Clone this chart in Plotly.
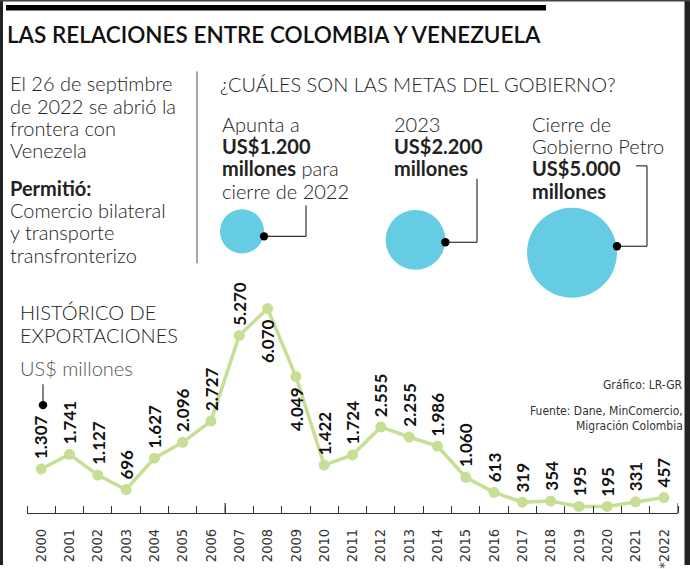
import plotly.graph_objects as go

W, H = 690, 569

# historico de exportaciones (US$ millones)
years = list(range(2000, 2023))
exports = [1307, 1741, 1127, 696, 1627, 2096, 2727, 5270, 6070, 4049, 1422, 1724,
           2555, 2255, 1986, 1060, 613, 319, 354, 195, 195, 331, 457]
year_labels = [str(y) for y in years[:-1]] + ["*2022"]
labels_below = [2008, 2009]

# metas del gobierno (US$ millones)
goal_values = [1200, 2200, 5000]

GREEN = "#C6DF94"
CYAN = "#66CCE4"
DARK = "#222222"
LIGHT = "Lato"
NARROW = "DejaVu Sans Condensed, Liberation Sans Narrow, Lato, sans-serif"


def px(x):
    return x / W


def py(y):
    return 1 - y / H


annotations = []
shapes = []


def text(x, y, s, size=20, weight=300, color=DARK, family=LIGHT, anchor="left"):
    annotations.append(dict(
        x=px(x), y=py(y), xref="paper", yref="paper", text=s, showarrow=False,
        xanchor=anchor, yanchor="middle", borderpad=0,
        font=dict(family=family, size=size, color=color, weight=weight)))


def line(x0, y0, x1, y1, color="#333333", width=1.2):
    shapes.append(dict(type="line", xref="paper", yref="paper",
                       x0=px(x0), y0=py(y0), x1=px(x1), y1=py(y1),
                       line=dict(color=color, width=width)))


def dot(x, y, r=4.2):
    shapes.append(dict(type="circle", xref="paper", yref="paper",
                       x0=px(x - r), x1=px(x + r), y0=py(y - r), y1=py(y + r),
                       fillcolor="black", line=dict(width=0)))


fig = go.Figure()

# line chart
fig.add_trace(go.Scatter(
    x=years, y=exports, mode="lines+markers",
    line=dict(color=GREEN, width=3.5),
    marker=dict(color=GREEN, size=11),
    cliponaxis=False, hoverinfo="skip"))

for yr, v in zip(years, exports):
    lab = f"{v:,}".replace(",", ".")
    below = yr in labels_below
    annotations.append(dict(
        x=yr, y=v, xref="x", yref="y", text="<b>" + lab + "</b>", showarrow=False,
        textangle=-90, xanchor="center",
        yanchor="top" if below else "bottom",
        yshift=-9 if below else 8,
        font=dict(family=LIGHT, size=17, color="#111111", weight=700)))

# circles for the goals, sized by area
cx = [242, 415.5, 572]
cy = [233, 241.5, 254.5]
dmax = 90
sref = 2 * max(goal_values) / dmax ** 2
fig.add_trace(go.Scatter(
    x=cx, y=cy, xaxis="x2", yaxis="y2", mode="markers",
    marker=dict(size=goal_values, sizemode="area", sizeref=sref, color=CYAN,
                opacity=1, line=dict(width=0)),
    hoverinfo="skip", cliponaxis=False))

radii = [(v / (2 * sref)) ** 0.5 for v in goal_values]

# connectors from each circle to its text
dot_y = [238, 244, 248]
elbow_x = [306, 477, 647]
top_y = [207, 180, 167]
for c, r, dy, ex, ty in zip(cx, radii, dot_y, elbow_x, top_y):
    line(c + r, dy, ex, dy)
    line(ex, dy, ex, ty)
    dot(c + r, dy)
line(647, 167, 636, 167)

# frame and header bar
shapes.append(dict(type="rect", xref="paper", yref="paper", x0=0, x1=px(3), y0=0, y1=1,
                   fillcolor=DARK, line=dict(width=0)))
shapes.append(dict(type="rect", xref="paper", yref="paper", x0=px(684.5), x1=1, y0=0, y1=1,
                   fillcolor=DARK, line=dict(width=0)))
shapes.append(dict(type="rect", xref="paper", yref="paper", x0=0, x1=1, y0=py(1.5), y1=1,
                   fillcolor="#444444", line=dict(width=0)))
shapes.append(dict(type="rect", xref="paper", yref="paper", x0=px(6), x1=px(546),
                   y0=py(10.5), y1=py(5), fillcolor="black", line=dict(width=0)))

# divider
line(197, 72, 197, 265, color="#8a8a8a", width=1.5)

# titles and texts
text(6, 34.5, "LAS RELACIONES ENTRE COLOMBIA Y VENEZUELA", size=22.5, weight=600, color="#111111")

left_lines = ["El 26 de septimbre", "de 2022 se abrió la", "frontera con", "Venezela"]
for i, s in enumerate(left_lines):
    text(9, 84 + 22.5 * i, s)
text(9, 189.5, "<b>Permitió:</b>")
for i, s in enumerate(["Comercio bilateral", "y transporte", "transfronterizo"]):
    text(9, 211.5 + 22.5 * i, s)

text(219, 84.5, "¿CUÁLES SON LAS METAS DEL GOBIERNO?")

for i, s in enumerate(["Apunta a", "<b>US$1.200</b>", "<b>millones</b> para", "cierre de 2022"]):
    text(221, 124.5 + 22.5 * i, s)
for i, s in enumerate(["2023", "<b>US$2.200</b>", "<b>millones</b>"]):
    text(393, 124.5 + 22.5 * i, s)
for i, s in enumerate(["Cierre de", "Gobierno Petro", "<b>US$5.000</b>", "<b>millones</b>"]):
    text(531, 124.5 + 22.5 * i, s)

text(19, 314.5, "HISTÓRICO DE")
text(19, 337, "EXPORTACIONES")
text(19, 370.5, "US$ millones", color="#555555")
line(43, 387, 43, 404)
dot(43, 408)

text(684, 388, "Gráfico: LR-GR", size=12, weight=400, family=NARROW, color="#333333", anchor="right")
text(684, 414, "Fuente: Dane, MinComercio,", size=12, weight=400, family=NARROW, color="#333333", anchor="right")
text(684, 429, "Migración Colombia", size=12, weight=400, family=NARROW, color="#333333", anchor="right")

y0 = 516.6
y_per_px = 0.03392

# taller ticks on the axis (2006/2007 boundary and the end)
for xt in [2006.5, 2022.5]:
    shapes.append(dict(type="line", xref="x", yref="paper", x0=xt, x1=xt,
                       y0=py(y0), y1=py(y0 - 10), line=dict(color="#333333", width=1.2)))

fig.update_layout(
    width=W, height=H,
    margin=dict(l=0, r=0, t=0, b=0),
    paper_bgcolor="white", plot_bgcolor="rgba(0,0,0,0)",
    showlegend=False,
    xaxis=dict(domain=[px(27), px(678)], range=[1999.5, 2022.5],
               tickmode="array", tickvals=years, ticktext=year_labels,
               tickangle=-90, ticks="", ticklabelstandoff=9,
               tickfont=dict(family=NARROW, size=14.5, color="#333333"),
               showline=True, linecolor="#333333", linewidth=1.4,
               showgrid=False, zeroline=False, fixedrange=True,
               minor=dict(tickmode="array", tickvals=[y - 0.5 for y in years] + [2022.5],
                          ticks="inside", ticklen=7, tickcolor="#333333", tickwidth=1.2)),
    yaxis=dict(domain=[1 - y0 / H, 1], range=[0, y0 / y_per_px], visible=False,
               fixedrange=True),
    xaxis2=dict(domain=[0, 1], range=[0, W], visible=False, anchor="y2", fixedrange=True),
    yaxis2=dict(domain=[0, 1], range=[H, 0], visible=False, anchor="x2", fixedrange=True),
    annotations=annotations,
    shapes=shapes,
)

fig.write_html("out.html", config={"displayModeBar": False},
               post_script="document.body.style.margin='0';")
